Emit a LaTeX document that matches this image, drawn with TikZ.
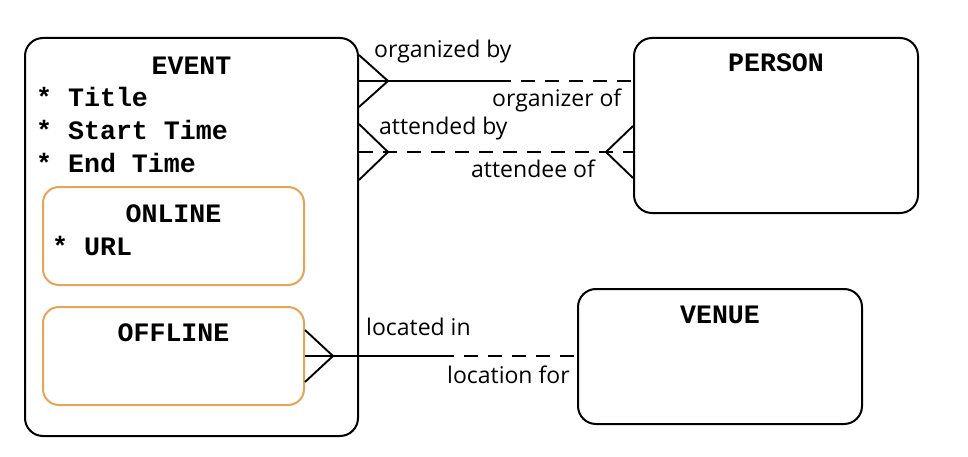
\documentclass[tikz,border=0pt]{standalone}
\usepackage{fontspec}
\setmainfont{Open Sans}
\setmonofont{Liberation Mono}
\usetikzlibrary{positioning}
\definecolor{subtype}{RGB}{230,164,88}
\tikzstyle{entity} = [rectangle, rounded corners=18pt, draw=black, line width=2pt, fill=white, inner sep=0pt]
\tikzstyle{subentity} = [rectangle, rounded corners=16pt, draw=subtype, line width=2pt, fill=white, inner sep=0pt]
\tikzstyle{ename} = [font=\fontsize{26.6}{30}\selectfont\ttfamily\bfseries, anchor=base, inner sep=0pt]
\tikzstyle{attr} = [ename, anchor=base west]
\tikzstyle{role} = [font=\fontsize{23}{27}\selectfont, anchor=base west, inner sep=0pt]
\tikzstyle{link} = [line width=1.9pt]
\tikzstyle{optional} = [link, dash pattern=on 14pt off 10pt]

\begin{document}
\begin{tikzpicture}[x=1pt, y=-1pt]
            \useasboundingbox (0,0) rectangle (968,457);

            % entities
            \node [entity, minimum width=333pt, minimum height=398pt] at (191.5,237) (event) {};
            \node [subentity, minimum width=261pt, minimum height=98pt] at (173.5,236) (online) {};
            \node [subentity, minimum width=261pt, minimum height=98pt] at (173.5,356) (offline) {};
            \node [entity, minimum width=284pt, minimum height=175pt] at (776,125.5) (person) {};
            \node [entity, minimum width=284pt, minimum height=135pt] at (720,356.5) (venue) {};

            % names and attributes
            \node [ename] at (191.5,75) (eventname) {EVENT};
            \node [attr] at (36,107) (title) {* Title};
            \node [attr] at (36,140) (start) {* Start Time};
            \node [attr] at (36,173) (end) {* End Time};
            \node [ename] at (173.5,222) (onlinename) {ONLINE};
            \node [attr] at (52,255) (url) {* URL};
            \node [ename] at (173.5,341) (offlinename) {OFFLINE};
            \node [ename] at (776,72) (personname) {PERSON};
            \node [ename] at (720,323) (venuename) {VENUE};

            % organized by / organizer of
            \coordinate (orgtip) at (388,81);
            \coordinate (orgsplit) at (497,81);
            \coordinate (orgend) at (event.east |- orgtip);
            \draw [link] (orgend) -- (orgsplit);
            \draw [optional] (orgsplit) -- (person.west |- orgtip);
            \draw [link] ([yshift=26pt]orgend) -- (orgtip) -- ([yshift=-26pt]orgend);
            \node [role] at (374,58) (orgby) {organized by};
            \node [role] at (492,107) (orgof) {organizer of};

            % attended by / attendee of
            \coordinate (atttip) at (388,152);
            \coordinate (attend) at (event.east |- atttip);
            \coordinate (atttip2) at (606,152);
            \coordinate (attend2) at (person.west |- atttip2);
            \draw [optional] (attend) -- (attend2);
            \draw [link] ([yshift=28pt]attend) -- (atttip) -- ([yshift=-28pt]attend);
            \draw [link] ([yshift=26pt]attend2) -- (atttip2) -- ([yshift=-26pt]attend2);
            \node [role] at (379,135) (attby) {attended by};
            \node [role] at (471,178) (attof) {attendee of};

            % located in / location for
            \coordinate (loctip) at (333,356);
            \coordinate (locsplit) at (440,356);
            \coordinate (locend) at (offline.east |- loctip);
            \draw [link] (locend) -- (locsplit);
            \draw [optional] (locsplit) -- (venue.west |- loctip);
            \draw [link] ([yshift=26pt]locend) -- (loctip) -- ([yshift=-26pt]locend);
            \node [role] at (366,335) (locin) {located in};
            \node [role] at (447,383) (locfor) {location for};
\end{tikzpicture}
\end{document}
